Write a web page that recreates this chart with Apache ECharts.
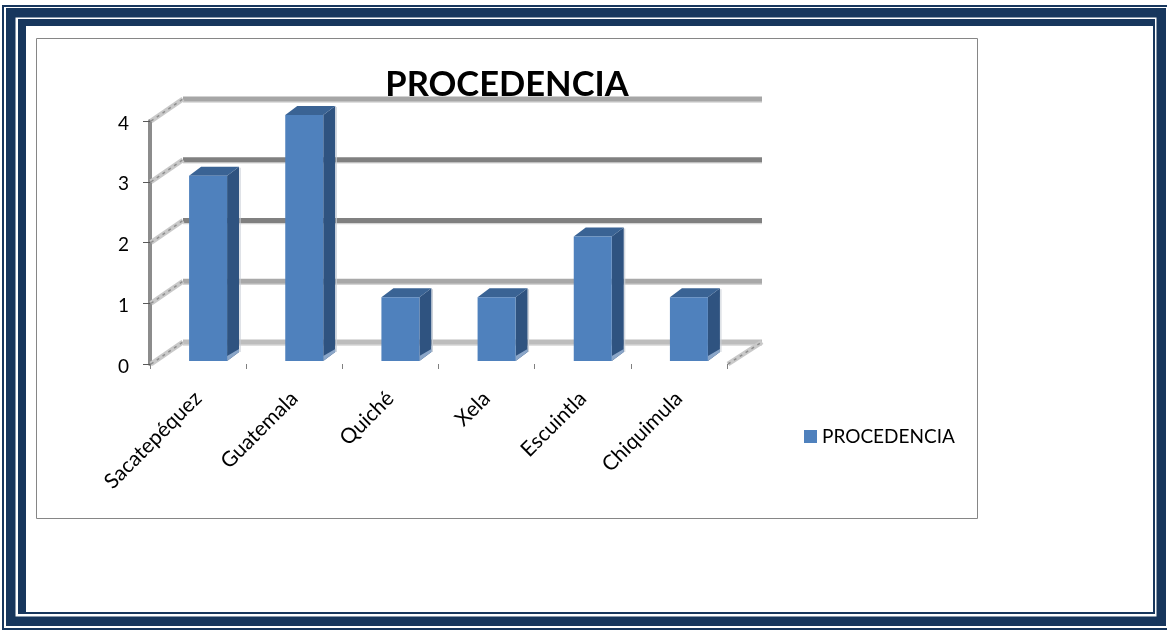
<!DOCTYPE html>
<html>
<head>
<meta charset="utf-8">
<style>html,body{margin:0;padding:0;background:#fff}#c{width:1167px;height:630px}</style>
<script src="https://cdn.jsdelivr.net/npm/echarts@6/dist/echarts.min.js"></script>
</head>
<body>
<div id="c"></div>
<script>
const categories = ['Sacatepéquez','Guatemala','Quiché','Xela','Escuintla','Chiquimula'];
const values = [3,4,1,1,2,1];
const seriesName = 'PROCEDENCIA';
const titleText = 'PROCEDENCIA';
const gridTicks = [0,1,2,3,4];
const gridColors = ['#bdbdbd','#a8a8a8','#808080','#808080','#a6a6a6'];

const DEPTH_X = 33, DEPTH_Y = 22;
const BAR_W = 38, BAR_SHIFT = 10, BAR_DX = 12, BAR_DY = 9;
const NAVY = '#17365d';

function rect(x,y,w,h,fill){return {type:'rect',silent:true,z:-1,shape:{x,y,width:w,height:h},style:{fill:fill||NAVY}};}
function frameBox(x0,y0,x1,y1,t){
  return [rect(x0,y0,x1-x0,t),rect(x0,y1-t,x1-x0,t),rect(x0,y0,t,y1-y0),rect(x1-t,y0,t,y1-y0)];
}
const frame = [
  rect(2,5,1165,2), rect(2,5,2,625), rect(2,628,1165,2),
  ...frameBox(6,8,1166,626,9.5),
  rect(18,19,1137,7), rect(18,19,8,595),
  rect(18,612,1137,2), rect(1153,19,2,595),
  {type:'rect',silent:true,z:-1,shape:{x:36.5,y:38.5,width:941,height:480},style:{fill:'#fff',stroke:'#868686',lineWidth:1}}
];

function renderWall(params,api){
  const cs = params.coordSys;
  const v = api.value(1);
  const y = api.coord([0,v])[1];
  const col = gridColors[params.dataIndex];
  const x0 = cs.x, x1 = cs.x + DEPTH_X, yb = y - DEPTH_Y, xe = cs.x + cs.width + DEPTH_X + 2;
  const kids = [
    {type:'line',shape:{x1:x1,y1:yb+3,x2:xe,y2:yb+3},style:{stroke:'#d4d4d4',lineWidth:1.5}},
    {type:'line',shape:{x1:x1,y1:yb,x2:xe,y2:yb},style:{stroke:col,lineWidth:5}},
    {type:'line',shape:{x1:x0+1,y1:y,x2:x1,y2:yb},style:{stroke:'#c9c9c9',lineWidth:5}},
    {type:'line',shape:{x1:x0+1,y1:y,x2:x1,y2:yb},style:{stroke:'#8f8f8f',lineWidth:1.5,lineDash:[3,4]}}
  ];
  if (v === 0) {
    const xr = cs.x + cs.width;
    kids.push({type:'line',shape:{x1:xr+1,y1:y,x2:xe,y2:yb},style:{stroke:'#c9c9c9',lineWidth:5}});
    kids.push({type:'line',shape:{x1:xr+1,y1:y,x2:xe,y2:yb},style:{stroke:'#8f8f8f',lineWidth:1.5,lineDash:[3,4]}});
  }
  return {type:'group',silent:true,children:kids};
}

function renderBar(params,api){
  const c = api.coord([api.value(0),api.value(1)]);
  const base = api.coord([api.value(0),0])[1] - 3;
  const top = c[1] - 6;
  const l = c[0] + BAR_SHIFT - BAR_W/2, r = l + BAR_W;
  const dx = BAR_DX, dy = BAR_DY;
  return {type:'group',children:[
    {type:'polygon',shape:{points:[[r,top],[r+dx,top-dy],[r+dx,base-dy],[r,base]]},style:{fill:'#2f5380'}},
    {type:'line',shape:{x1:r+dx+1,y1:top-dy+1,x2:r+dx+1,y2:base-dy},style:{stroke:'#c8ced6',lineWidth:1}},
    {type:'polygon',shape:{points:[[r,base],[r+dx,base-dy],[r+dx,base-dy-3],[r,base-5]]},style:{fill:'#8ba6c8'}},
    {type:'polygon',shape:{points:[[l,top],[l+dx,top-dy],[r+dx,top-dy],[r,top]]},style:{fill:'#3a6394'}},
    {type:'rect',shape:{x:l,y:top,width:BAR_W,height:base-top},style:{fill:'#4f81bd'}}
  ]};
}

const chart = echarts.init(document.getElementById('c'),null,{renderer:'canvas'});
chart.setOption({
  animation:false,
  backgroundColor:'#fff',
  graphic:{elements:frame},
  title:{text:titleText,left:502,top:62,textAlign:'center',z:20,
    textStyle:{fontFamily:'Lato',fontWeight:'bold',fontSize:34.5,color:'#000'}},
  legend:{data:[{name:seriesName,icon:'rect',itemStyle:{color:'#4f81bd'}}],left:799,top:422,
    itemWidth:13,itemHeight:13,itemGap:5,
    textStyle:{fontFamily:'Lato',fontSize:19,color:'#000'}},
  grid:{left:150,right:440,top:121,bottom:266,containLabel:false},
  xAxis:{type:'category',data:categories,boundaryGap:true,
    axisLine:{show:false},
    axisTick:{show:true,alignWithLabel:false,length:5,lineStyle:{color:'#808080',width:1}},
    axisLabel:{rotate:45,interval:0,margin:31,fontFamily:'Lato',fontSize:21,color:'#000'},
    splitLine:{show:false}},
  yAxis:{type:'value',min:0,max:4,interval:1,
    axisLine:{show:true,lineStyle:{color:'#8c8c8c',width:4}},
    axisTick:{show:true,length:7,lineStyle:{color:'#595959',width:1}},
    axisLabel:{margin:21,verticalAlign:'top',lineHeight:5,fontFamily:'Lato',fontSize:19,color:'#000'},
    splitLine:{show:false}},
  series:[
    {type:'custom',name:'wall',data:gridTicks.map(t=>[0,t]),renderItem:renderWall,clip:false,z:1,silent:true,encode:{x:0,y:1}},
    {type:'custom',name:seriesName,data:values.map((v,i)=>[i,v]),renderItem:renderBar,clip:false,z:3,itemStyle:{color:'#4f81bd'},encode:{x:0,y:1}}
  ]
});
</script>
</body>
</html>
